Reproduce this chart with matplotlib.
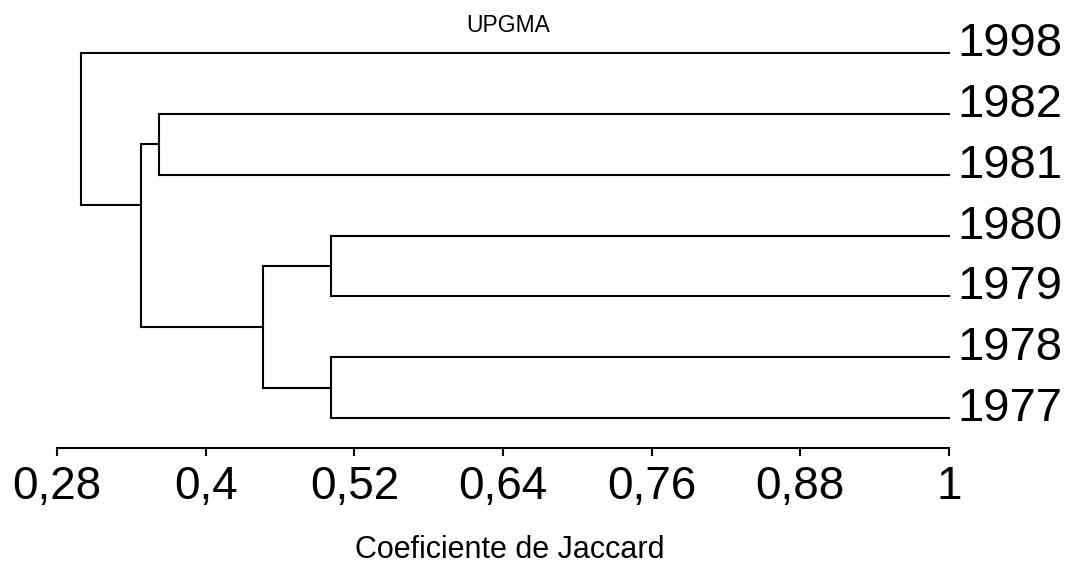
import matplotlib
matplotlib.use("Agg")
import matplotlib.pyplot as plt

plt.rcParams['font.family'] = ['Liberation Sans', 'DejaVu Sans']

# Leaves, top to bottom
leaves = ['1998', '1982', '1981', '1980', '1979', '1978', '1977']

# UPGMA merges: (left child, right child, Jaccard similarity at the join)
# children are leaf indices (0..6) or earlier merges as 'm<k>'
merges = [
    (1, 2, 0.362),          # m0: 1982 + 1981
    (3, 4, 0.501),          # m1: 1980 + 1979
    (5, 6, 0.501),          # m2: 1978 + 1977
    ('m1', 'm2', 0.446),    # m3
    ('m0', 'm3', 0.348),    # m4
    (0, 'm4', 0.299),       # m5: root
]
# row where each merged cluster's stem leaves toward its parent
stem_rows = [1.5, 3.5, 5.5, 4.5, 2.5, 0.48]

x_ticks = [0.28, 0.4, 0.52, 0.64, 0.76, 0.88, 1.0]
x_tick_labels = ['0,28', '0,4', '0,52', '0,64', '0,76', '0,88', '1']

fig = plt.figure(figsize=(10.66, 5.67), dpi=100)
ax = fig.add_axes([57 / 1066, 1 - 448 / 567, (949 - 57) / 1066, (448 - 47) / 567])

lw = 1.5
pos = {}
for i in range(len(leaves)):
    pos[i] = (1.0, float(i))

for k, (a, b, sim) in enumerate(merges):
    xa, ya = pos[a]
    xb, yb = pos[b]
    ax.plot([xa, sim], [ya, ya], color='black', lw=lw, solid_capstyle='projecting', clip_on=False)
    ax.plot([xb, sim], [yb, yb], color='black', lw=lw, solid_capstyle='projecting', clip_on=False)
    ax.plot([sim, sim], [ya, yb], color='black', lw=lw, solid_capstyle='projecting', clip_on=False)
    pos['m%d' % k] = (sim, stem_rows[k])

for i, name in enumerate(leaves):
    ax.annotate(name, xy=(1.0, i), xytext=(6, 6.5), textcoords='offset points',
                ha='left', va='center', fontsize=34, annotation_clip=False)

ax.set_xlim(0.28, 1.0)
ax.set_ylim(6.49, -0.1)
ax.set_xticks(x_ticks)
ax.set_xticklabels(x_tick_labels, fontsize=33)
ax.set_yticks([])
for side in ['left', 'right', 'top']:
    ax.spines[side].set_visible(False)
ax.spines['bottom'].set_linewidth(lw)
ax.tick_params(axis='x', direction='out', length=6, width=lw, pad=6)

fig.text(510 / 1066, 1 - 558 / 567, 'Coeficiente de Jaccard', ha='center', va='baseline', fontsize=22)
fig.text(508 / 1066, 1 - 31.5 / 567, 'UPGMA', ha='center', va='baseline', fontsize=16.5)

fig.savefig('out.png', dpi=100, facecolor='white')
